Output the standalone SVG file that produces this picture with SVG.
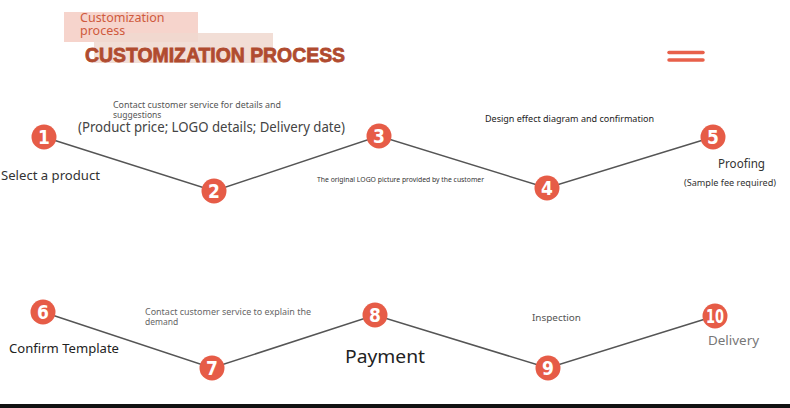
<svg xmlns="http://www.w3.org/2000/svg" width="790" height="408" viewBox="0 0 790 408">
<style>
.c{fill:#e65c47}
.n{fill:#fff;font-family:"Liberation Sans Narrow","DejaVu Sans Condensed",sans-serif;font-weight:bold;font-size:19px;text-anchor:middle}
.t{font-family:"Noto Sans","Liberation Sans",sans-serif}
.ln{stroke:#555;stroke-width:1.5;fill:none}
</style>
<rect width="790" height="408" fill="#fff"/>
<g id="header">
<rect x="64" y="12" width="134" height="30" fill="#f5cfc7" opacity="0.9"/>
<rect x="94" y="33" width="179" height="30" fill="#f0d8cf" opacity="0.85"/>
<text class="t" x="80" y="22" font-size="12.5" fill="#cf5a3d">Customization</text>
<text class="t" x="80" y="35" font-size="12.5" fill="#cf5a3d">process</text>
<text x="85" y="62" font-family="'Liberation Sans','DejaVu Sans',sans-serif" font-weight="900" font-size="20" fill="#b04b2f" textLength="260" lengthAdjust="spacingAndGlyphs" stroke="#b04b2f" stroke-width="0.8">CUSTOMIZATION PROCESS</text>
</g>
<g id="menu" stroke="#e8604a" stroke-width="3.5" stroke-linecap="round">
<line x1="669" y1="52.5" x2="703" y2="52.5"/>
<line x1="669" y1="60" x2="703" y2="60"/>
</g>
<g id="connectors" class="ln">
<polyline points="44,137 214,191 379,136 547,188 713,137"/>
<polyline points="43,312 212,368 375,315 548,368 715,316"/>
</g>
<g id="n1"><circle class="c" cx="44" cy="137" r="12.5"/><text class="n" x="44" y="144">1</text></g>
<g id="n2"><circle class="c" cx="214" cy="191" r="12.5"/><text class="n" x="214" y="198">2</text></g>
<g id="n3"><circle class="c" cx="379" cy="136" r="12.5"/><text class="n" x="379" y="143">3</text></g>
<g id="n4"><circle class="c" cx="547" cy="188" r="12.5"/><text class="n" x="547" y="195">4</text></g>
<g id="n5"><circle class="c" cx="713" cy="137" r="12.5"/><text class="n" x="713" y="144">5</text></g>
<g id="n6"><circle class="c" cx="43" cy="312" r="12.5"/><text class="n" x="43" y="319">6</text></g>
<g id="n7"><circle class="c" cx="212" cy="368" r="12.5"/><text class="n" x="212" y="375">7</text></g>
<g id="n8"><circle class="c" cx="375" cy="315" r="12.5"/><text class="n" x="375" y="322">8</text></g>
<g id="n9"><circle class="c" cx="548" cy="368" r="12.5"/><text class="n" x="548" y="375">9</text></g>
<g id="n10"><circle class="c" cx="715" cy="316" r="12.5"/><text class="n" x="715" y="323" textLength="18" lengthAdjust="spacingAndGlyphs">10</text></g>
<g id="labels" class="t">
<text x="113" y="107.5" font-size="8.5" fill="#555" textLength="168" lengthAdjust="spacingAndGlyphs">Contact customer service for details and</text>
<text x="113" y="118" font-size="8.5" fill="#555">suggestions</text>
<text x="78" y="131.5" font-size="13.5" fill="#444" textLength="267" lengthAdjust="spacingAndGlyphs">(Product price; LOGO details; Delivery date)</text>
<text x="1" y="180" font-size="13" fill="#333" textLength="99" lengthAdjust="spacingAndGlyphs">Select a product</text>
<text x="317" y="182" font-size="6.5" fill="#333" textLength="167" lengthAdjust="spacingAndGlyphs">The original LOGO picture provided by the customer</text>
<text x="485" y="122" font-size="9" fill="#222" textLength="169" lengthAdjust="spacingAndGlyphs">Design effect diagram and confirmation</text>
<text x="718" y="168" font-size="13" fill="#333" textLength="47" lengthAdjust="spacingAndGlyphs">Proofing</text>
<text x="684" y="186" font-size="9" fill="#333" textLength="92" lengthAdjust="spacingAndGlyphs">(Sample fee required)</text>
<text x="145" y="314.5" font-size="8.5" fill="#666" textLength="166" lengthAdjust="spacingAndGlyphs">Contact customer service to explain the</text>
<text x="145" y="325" font-size="8.5" fill="#666">demand</text>
<text x="9" y="353" font-size="13" fill="#222" textLength="110" lengthAdjust="spacingAndGlyphs">Confirm Template</text>
<text x="345" y="363" font-size="18" fill="#222" textLength="80" lengthAdjust="spacingAndGlyphs">Payment</text>
<text x="532" y="321" font-size="9" fill="#555" textLength="49" lengthAdjust="spacingAndGlyphs">Inspection</text>
<text x="708" y="345" font-size="13" fill="#777" textLength="51" lengthAdjust="spacingAndGlyphs">Delivery</text>
</g>
<rect x="0" y="404" width="790" height="4" fill="#111"/>
</svg>
